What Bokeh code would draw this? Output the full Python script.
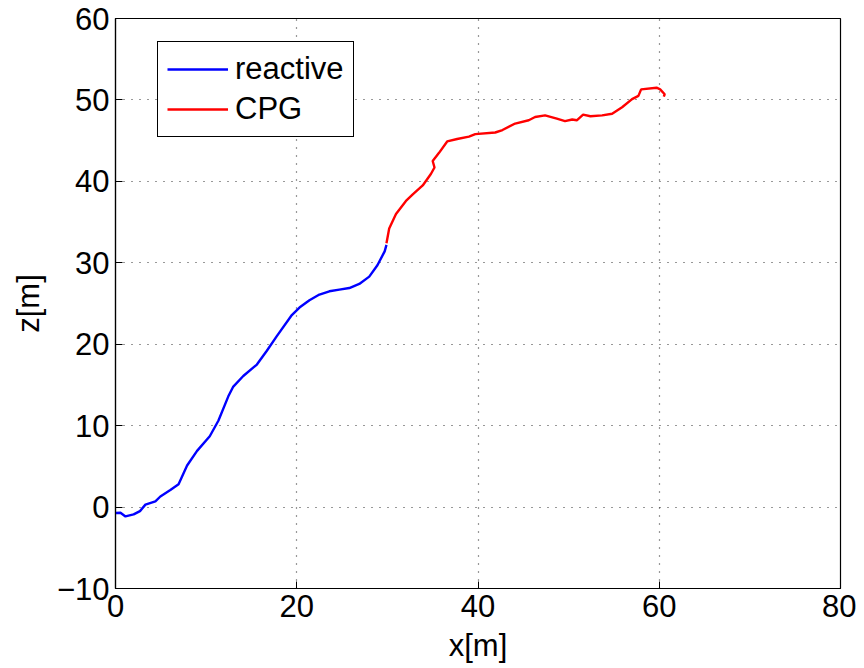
from bokeh.plotting import figure
from bokeh.models import Range1d, FixedTicker, Legend, LegendItem
from bokeh.embed import file_html
from bokeh.resources import INLINE

reactive_x = [0.0, 0.55, 1.1, 2.0, 2.7, 3.3, 4.4, 4.95, 6.05, 6.96, 7.9, 9.0, 10.4, 11.35,
              12.45, 13.0, 14.1, 15.6, 16.7, 17.8, 19.4, 20.3, 21.4, 22.5, 23.6, 24.7, 25.8,
              26.9, 28.0, 28.9, 29.7, 29.9]
reactive_z = [-0.73, -0.7, -1.15, -0.9, -0.5, 0.3, 0.7, 1.3, 2.1, 2.8, 5.1, 6.9, 8.7, 10.6,
              13.6, 14.8, 16.1, 17.5, 19.2, 21.0, 23.5, 24.5, 25.4, 26.1, 26.5, 26.7, 26.9,
              27.4, 28.3, 29.7, 31.4, 32.2]

cpg_x = [29.9, 30.2, 30.95, 32.05, 32.8, 33.9, 34.8, 35.2, 35.0, 35.7, 36.6, 37.7, 39.0, 39.7,
         41.9, 42.7, 44.1, 45.6, 46.3, 47.4, 48.7, 49.6, 50.4, 50.9, 51.6, 52.4, 53.7, 54.8,
         55.9, 57.0, 57.7, 58.0, 59.7, 60.1, 60.6, 60.5]
cpg_z = [32.4, 34.2, 36.0, 37.6, 38.4, 39.5, 40.9, 41.7, 42.5, 43.5, 44.9, 45.2, 45.5, 45.8,
         46.0, 46.3, 47.1, 47.5, 47.9, 48.1, 47.7, 47.4, 47.6, 47.5, 48.2, 48.0, 48.1, 48.3,
         49.1, 50.1, 50.5, 51.3, 51.5, 51.3, 50.7, 50.4]

x_ticks = [0, 20, 40, 60, 80]
y_ticks = [-10, 0, 10, 20, 30, 40, 50, 60]

FONT = "Liberation Sans"
FS = "31px"

p = figure(width=856, height=668, output_backend="svg", toolbar_location=None,
           x_range=Range1d(0, 80), y_range=Range1d(-10, 60),
           min_border_left=115, min_border_right=16, min_border_top=18, min_border_bottom=80)

r1 = p.line(reactive_x, reactive_z, line_color="#0000ff", line_width=2.4)
r2 = p.line(cpg_x, cpg_z, line_color="#ff0000", line_width=2.4)

p.outline_line_color = "black"
p.outline_line_width = 1.2
p.outline_line_alpha = 1

for ax in (p.xaxis[0], p.yaxis[0]):
    ax.major_label_text_font = FONT
    ax.major_label_text_font_size = FS
    ax.major_label_text_color = "black"
    ax.axis_label_text_font = FONT
    ax.axis_label_text_font_size = FS
    ax.axis_label_text_font_style = "normal"
    ax.axis_label_text_color = "black"
    ax.major_tick_in = 7
    ax.major_tick_out = 0
    ax.minor_tick_in = 0
    ax.minor_tick_out = 0
    ax.axis_line_color = "black"
    ax.axis_line_width = 1.2

p.xaxis.ticker = FixedTicker(ticks=x_ticks)
p.yaxis.ticker = FixedTicker(ticks=y_ticks)
p.xaxis.axis_label = "x[m]"
p.yaxis.axis_label = "z[m]"
p.xaxis.major_label_standoff = 6
p.xaxis.axis_label_standoff = 8
p.yaxis.major_label_standoff = 6
p.yaxis.axis_label_standoff = 8

p.grid.grid_line_color = "#333333"
p.grid.grid_line_dash = "1 7"
p.grid.grid_line_width = 1.2
p.xgrid.ticker = FixedTicker(ticks=x_ticks)
p.ygrid.ticker = FixedTicker(ticks=y_ticks)

legend = Legend(items=[LegendItem(label="reactive", renderers=[r1]),
                       LegendItem(label="CPG", renderers=[r2])],
                location=(42, 451))
legend.label_text_font = FONT
legend.label_text_font_size = FS
legend.label_text_color = "black"
legend.border_line_color = "black"
legend.border_line_alpha = 1
legend.border_line_width = 1.4
legend.glyph_width = 61
legend.glyph_height = 36
legend.label_height = 36
legend.label_standoff = 7
legend.padding = 9
legend.spacing = 4
legend.margin = 0
legend.background_fill_alpha = 1
p.add_layout(legend)

open("out.html", "w").write(file_html(p, INLINE))
